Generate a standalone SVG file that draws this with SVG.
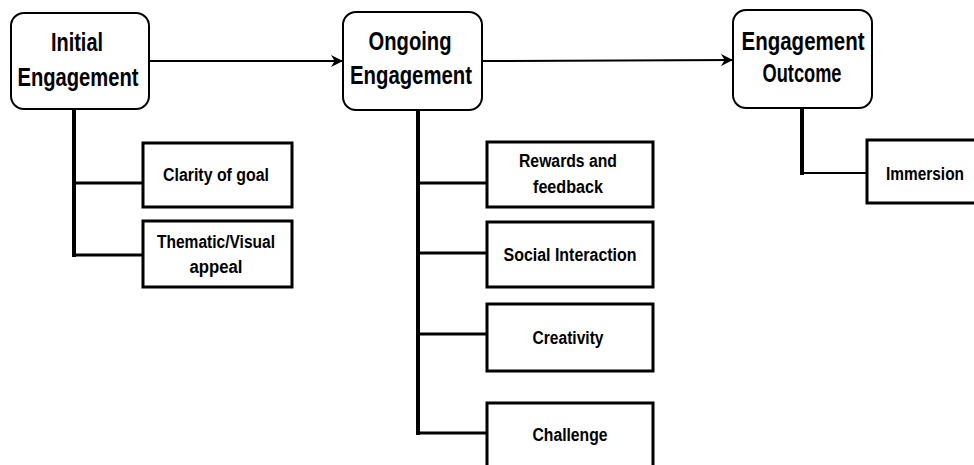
<svg xmlns="http://www.w3.org/2000/svg" width="974" height="465" viewBox="0 0 974 465">
  <style>
    .stage { fill: #ffffff; stroke: #000000; stroke-width: 2; }
    .item { fill: #ffffff; stroke: #000000; stroke-width: 3; }
    .head { font-family: "Liberation Sans", Arial, sans-serif; font-weight: bold; font-size: 25px; fill: #000000; text-anchor: middle; }
    .label { font-family: "Liberation Sans", Arial, sans-serif; font-weight: bold; font-size: 18px; fill: #000000; text-anchor: middle; }
    .flow { fill: none; stroke: #000000; stroke-width: 2; }
    .trunk { fill: none; stroke: #000000; stroke-width: 4; }
    .branch { fill: none; stroke: #000000; stroke-width: 3; }
  </style>
  <defs>
    <marker id="arrow" viewBox="0 0 10 10" refX="10" refY="5" markerWidth="14" markerHeight="12" markerUnits="userSpaceOnUse" orient="auto">
      <path d="M0,0 L10,5 L0,10 L3,5 Z" fill="#000000"/>
    </marker>
  </defs>
  <rect width="974" height="465" fill="#ffffff"/>

  <!-- connectors -->
  <g id="connectors">
    <path class="flow" d="M149,61 L343,61" marker-end="url(#arrow)"/>
    <path class="flow" d="M482,61 L733,60" marker-end="url(#arrow)"/>
    <path class="trunk" d="M74,109 L74,257"/>
    <path class="branch" d="M74,183 L143,183"/>
    <path class="branch" d="M74,255 L143,255"/>
    <path class="trunk" d="M418,110 L418,435"/>
    <path class="branch" d="M418,183 L487,183"/>
    <path class="branch" d="M418,253 L487,253"/>
    <path class="branch" d="M418,334 L487,334"/>
    <path class="branch" d="M418,433 L487,433"/>
    <path class="trunk" d="M802,108 L802,175"/>
    <path class="flow" d="M802,173 L867,173"/>
  </g>

  <!-- stages -->
  <g id="initial-engagement">
    <rect class="stage" x="11" y="13" width="138" height="96" rx="13"/>
    <text class="head" x="77" y="51" textLength="52" lengthAdjust="spacingAndGlyphs">Initial</text>
    <text class="head" x="78" y="86" textLength="121" lengthAdjust="spacingAndGlyphs">Engagement</text>
  </g>
  <g id="ongoing-engagement">
    <rect class="stage" x="343" y="12" width="139" height="98" rx="13"/>
    <text class="head" x="410" y="50" textLength="83" lengthAdjust="spacingAndGlyphs">Ongoing</text>
    <text class="head" x="411" y="84" textLength="122" lengthAdjust="spacingAndGlyphs">Engagement</text>
  </g>
  <g id="engagement-outcome">
    <rect class="stage" x="733" y="10" width="139" height="98" rx="13"/>
    <text class="head" x="803" y="50" textLength="123" lengthAdjust="spacingAndGlyphs">Engagement</text>
    <text class="head" x="802" y="82" font-size="23" textLength="79" lengthAdjust="spacingAndGlyphs">Outcome</text>
  </g>

  <!-- initial engagement factors -->
  <g id="clarity-of-goal">
    <rect class="item" x="143" y="143" width="149" height="64"/>
    <text class="label" x="216" y="181" textLength="106" lengthAdjust="spacingAndGlyphs">Clarity of goal</text>
  </g>
  <g id="thematic-visual-appeal">
    <rect class="item" x="143" y="221" width="149" height="66"/>
    <text class="label" x="216" y="248" textLength="118" lengthAdjust="spacingAndGlyphs">Thematic/Visual</text>
    <text class="label" x="216" y="273" textLength="53" lengthAdjust="spacingAndGlyphs">appeal</text>
  </g>

  <!-- ongoing engagement factors -->
  <g id="rewards-and-feedback">
    <rect class="item" x="487" y="142" width="166" height="65"/>
    <text class="label" x="568" y="167" textLength="98" lengthAdjust="spacingAndGlyphs">Rewards and</text>
    <text class="label" x="568" y="193" textLength="70" lengthAdjust="spacingAndGlyphs">feedback</text>
  </g>
  <g id="social-interaction">
    <rect class="item" x="487" y="222" width="166" height="65"/>
    <text class="label" x="570" y="261" textLength="133" lengthAdjust="spacingAndGlyphs">Social Interaction</text>
  </g>
  <g id="creativity">
    <rect class="item" x="487" y="304" width="166" height="67"/>
    <text class="label" x="568" y="344" textLength="71" lengthAdjust="spacingAndGlyphs">Creativity</text>
  </g>
  <g id="challenge">
    <rect class="item" x="487" y="403" width="166" height="75"/>
    <text class="label" x="570" y="441" textLength="75" lengthAdjust="spacingAndGlyphs">Challenge</text>
  </g>

  <!-- outcome -->
  <g id="immersion">
    <rect class="item" x="867" y="140" width="120" height="63"/>
    <text class="label" x="925" y="180" textLength="78" lengthAdjust="spacingAndGlyphs">Immersion</text>
  </g>
</svg>
